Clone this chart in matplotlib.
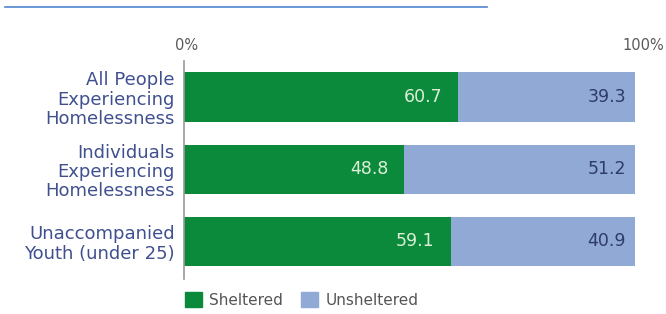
import matplotlib
matplotlib.use("Agg")
import matplotlib.pyplot as plt
from matplotlib.lines import Line2D
from matplotlib.patches import Patch

categories = ["All People\nExperiencing\nHomelessness",
              "Individuals\nExperiencing\nHomelessness",
              "Unaccompanied\nYouth (under 25)"]
sheltered = [60.7, 48.8, 59.1]
unsheltered = [39.3, 51.2, 40.9]

green = "#0b8a3c"
blue = "#90a9d5"
label_color = "#40508f"

plt.rcParams["font.family"] = ["DejaVu Sans"]

W, H = 666, 314
fig = plt.figure(figsize=(W / 100, H / 100), dpi=100)
ax = fig.add_axes([184 / W, 1 - 279 / H, (635 - 184) / W, (279 - 61) / H])

y = list(range(len(categories)))
ax.barh(y, sheltered, height=0.685, color=green)
ax.barh(y, unsheltered, left=sheltered, height=0.685, color=blue)

for i in y:
    ax.text(sheltered[i] - 3.5, i, f"{sheltered[i]:.1f}", ha="right", va="center",
            color="#dcefd8", fontsize=12.5)
    ax.text(98, i, f"{unsheltered[i]:.1f}", ha="right", va="center",
            color="#2f3b6b", fontsize=12.5)

ax.set_xlim(0, 100)
ax.set_ylim(2.52, -0.5)
for s in ["top", "right", "bottom"]:
    ax.spines[s].set_visible(False)
ax.spines["left"].set_color("#9a9a9a")
ax.spines["left"].set_linewidth(1.2)
ax.set_xticks([])
ax.set_yticks(y)
ax.set_yticklabels(categories, fontsize=13, color=label_color, linespacing=1.1)
ax.tick_params(axis="y", length=0, pad=6.5)

ax.text(3 / 451, 1.07, "0%", transform=ax.transAxes, ha="center", va="center",
        color="#5a5a5a", fontsize=10.5)
ax.text(459.5 / 451, 1.07, "100%", transform=ax.transAxes, ha="center", va="center",
        color="#5a5a5a", fontsize=10.5)

fig.add_artist(Line2D([5 / W, 487 / W], [1 - 7 / H, 1 - 7 / H],
                      color="#4f86d0", linewidth=1.2))

handles = [Patch(color=green, label="Sheltered"), Patch(color=blue, label="Unsheltered")]
fig.legend(handles=handles, loc="center left", bbox_to_anchor=(171 / W, 1 - 300 / H),
           ncol=2, frameon=False, fontsize=11, handlelength=1.1, handleheight=1.1,
           columnspacing=1.2, handletextpad=0.5, labelcolor="#555555")

fig.savefig("out.png", dpi=100)
